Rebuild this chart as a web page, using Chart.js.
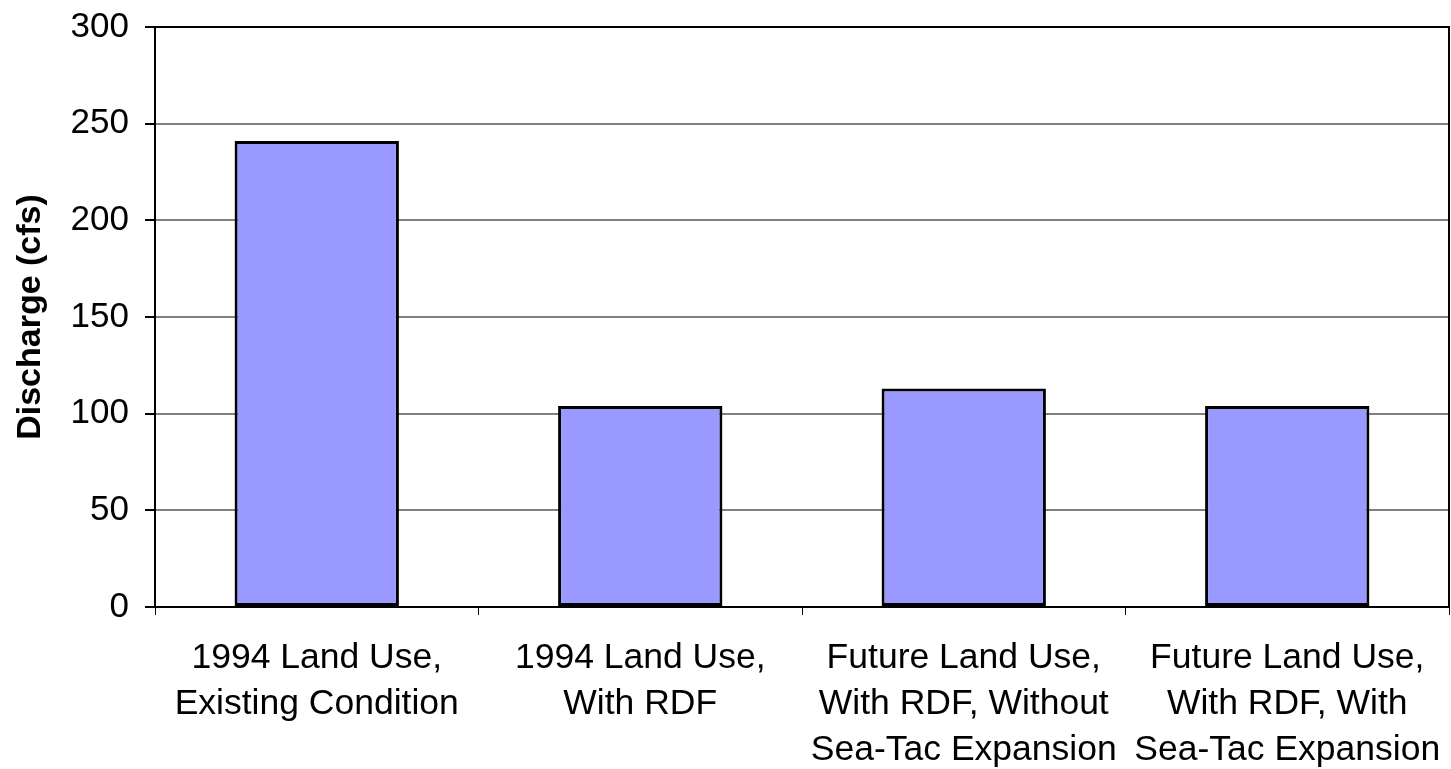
<!DOCTYPE html>
<html>
<head>
<meta charset="utf-8">
<script src="https://cdn.jsdelivr.net/npm/chart.js@4"></script>
<style>
  body { margin: 0; background: #fff; }
  #wrap { width: 1451px; height: 769px; }
</style>
</head>
<body>
<div id="wrap"><canvas id="dischargeChart"></canvas></div>
<script>
// Data
const categories = [
  ["1994 Land Use,", "Existing Condition"],
  ["1994 Land Use,", "With RDF"],
  ["Future Land Use,", "With RDF, Without", "Sea-Tac Expansion"],
  ["Future Land Use,", "With RDF, With", "Sea-Tac Expansion"]
];
const discharge = [241, 104, 113, 104];
const yTicks = [0, 50, 100, 150, 200, 250, 300];

const fontFamily = "'Liberation Sans', Arial, sans-serif";

// box around the plot area
const frame = {
  id: "frame",
  afterDraw(chart) {
    const a = chart.chartArea;
    const ctx = chart.ctx;
    ctx.save();
    ctx.strokeStyle = "#000";
    ctx.lineWidth = 2;
    ctx.strokeRect(a.left, a.top, a.right - a.left, a.bottom - a.top);
    ctx.restore();
  }
};

// keep the label overhang from pushing the plot area in
function noPadding(scale) {
  scale.paddingLeft = 0;
  scale.paddingRight = 0;
  scale.paddingTop = 0;
  scale.paddingBottom = 0;
}

const ctx = document.getElementById("dischargeChart").getContext("2d");
new Chart(ctx, {
  type: "bar",
  data: {
    labels: categories,
    datasets: [{
      data: discharge,
      backgroundColor: "#9999ff",
      borderColor: "#000",
      borderWidth: 3,
      borderSkipped: false,
      barPercentage: 0.508,
      categoryPercentage: 1
    }]
  },
  options: {
    responsive: true,
    maintainAspectRatio: false,
    animation: false,
    layout: { padding: { left: 0, right: 2, top: 27, bottom: 0 } },
    plugins: {
      legend: { display: false },
      tooltip: { enabled: false }
    },
    scales: {
      x: {
        offset: true,
        grid: {
          offset: true,
          drawOnChartArea: false,
          drawTicks: true,
          tickLength: 8,
          color: "#000"
        },
        border: { color: "#000", width: 2 },
        ticks: {
          color: "#000",
          padding: 20,
          maxRotation: 0,
          autoSkip: false,
          font: { family: fontFamily, size: 35.5, lineHeight: 1.3 }
        },
        afterFit(scale) {
          scale.height = 769 - 607;
          noPadding(scale);
        }
      },
      y: {
        min: 0,
        max: 300,
        afterBuildTicks(scale) { scale.ticks = yTicks.map(v => ({ value: v })); },
        grid: {
          color: "#808080",
          lineWidth: 2,
          tickColor: "#000",
          tickLength: 10
        },
        border: { color: "#000", width: 2 },
        ticks: {
          color: "#000",
          padding: 16,
          font: { family: fontFamily, size: 35 }
        },
        title: {
          display: true,
          text: "Discharge (cfs)",
          color: "#000",
          padding: { top: 10, bottom: 0 },
          font: { family: fontFamily, size: 34, weight: "bold" }
        },
        afterFit(scale) {
          scale.width = 155;
          noPadding(scale);
        }
      }
    }
  },
  plugins: [frame]
});
</script>
</body>
</html>
